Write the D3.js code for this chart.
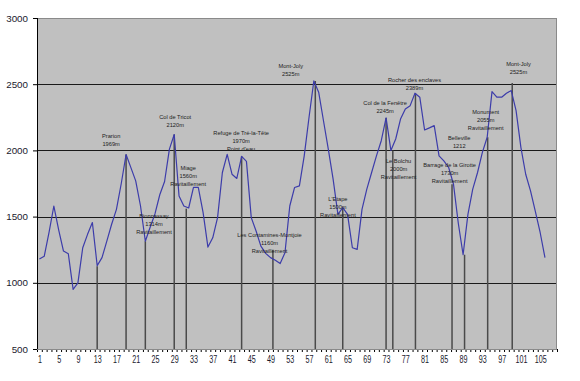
<!DOCTYPE html>
<html>
<head>
<meta charset="utf-8">
<script src="https://cdn.jsdelivr.net/npm/d3@7"></script>
<style>
  body { margin: 0; background: #fff; }
  text { font-family: "Liberation Sans", Arial, sans-serif; }
</style>
</head>
<body>
<svg id="svg"></svg>
<script>
// altitude profile, one value per point (m)
const elevation = [
  1180, 1200, 1380, 1580, 1400, 1240, 1220, 950, 1000, 1265,
  1366, 1455, 1130, 1190, 1315, 1442, 1555, 1750, 1969, 1870,
  1770, 1580, 1314, 1420, 1520, 1665, 1765, 2010, 2120, 1656,
  1580, 1565, 1720, 1720, 1530, 1270, 1340, 1492, 1833, 1970,
  1820, 1788, 1955, 1917, 1492, 1391, 1277, 1222, 1190, 1170,
  1145, 1227, 1580, 1720, 1732, 1959, 2250, 2525, 2440, 2224,
  2010, 1783, 1517, 1568, 1517, 1265, 1252, 1555, 1707, 1833,
  1959, 2073, 2245, 2000, 2086, 2237, 2313, 2338, 2432, 2402,
  2154, 2170, 2187, 1959, 1921, 1871, 1745, 1450, 1212, 1517,
  1707, 1833, 1985, 2099, 2444, 2402, 2402, 2432, 2452, 2300,
  2023, 1820, 1694, 1540, 1380, 1190
];
const categoryCount = 108;
const xTickLabels = [1, 5, 9, 13, 17, 21, 25, 29, 33, 37, 41, 45, 49, 53, 57, 61, 65, 69, 73, 77, 81, 85, 89, 93, 97, 101, 105];
const yTicks = [500, 1000, 1500, 2000, 2500, 3000];

// vertical drop lines: category position and top altitude
const dropCats = [13, 19, 23, 29, 31.5, 43, 49.5, 58.3, 64, 73, 74.4, 79.1, 86.7, 89.3, 94.1, 99.2];
const dropTops = [1125, 1969, 1314, 2120, 1560, 1955, 1250, 2525, 1568, 2245, 2000, 2432, 1745, 1212, 2099, 2510];

// place labels
const labelTexts = [
  ["Prarion", "1969m"],
  ["Bionnassay", "1314m", "Ravitaillement"],
  ["Col de Tricot", "2120m"],
  ["Miage", "1560m", "Ravitaillement"],
  ["Refuge  de Tré-la-Tête", "1970m", "Point d'eau"],
  ["Les Contamines-Montjoie", "1160m", "Ravitaillement"],
  ["Mont-Joly", "2525m"],
  ["L'Etape", "1500m", "Ravitaillement"],
  ["Col de la Fenêtre", "2245m"],
  ["Le Bolchu", "2000m", "Ravitaillement"],
  ["Rocher des enclaves", "2389m"],
  ["Barrage de la Girotte", "1730m", "Ravitaillement"],
  ["Belleville", "1212"],
  ["Monument", "2055m", "Ravitaillement"],
  ["Mont-Joly", "2525m"]
];
const labelCats = [15.9, 24.8, 29.2, 31.9, 42.9, 48.8, 53.2, 63.0, 72.8, 75.6, 78.9, 86.2, 88.2, 93.7, 100.5];
const labelVals = [2108, 1506, 2252, 1866, 2129, 1361, 2641, 1636, 2356, 1921, 2535, 1889, 2091, 2288, 2649];

const layout = {width: 580, height: 381, left: 37, right: 557, top: 18, bottom: 349};

const svg = d3.select("#svg")
  .attr("width", layout.width)
  .attr("height", layout.height);

const x = d3.scaleLinear()
  .domain([0.5, categoryCount + 0.5])
  .range([layout.left, layout.right]);

const y = d3.scaleLinear()
  .domain([500, 3000])
  .range([layout.bottom, layout.top]);

// plot area
svg.append("rect")
  .attr("x", layout.left)
  .attr("y", layout.top)
  .attr("width", layout.right - layout.left)
  .attr("height", layout.bottom - layout.top)
  .attr("fill", "#c0c0c0");

// gridlines
svg.append("g")
  .selectAll("line")
  .data(yTicks.filter(d => d > 500 && d < 3000))
  .join("line")
  .attr("x1", layout.left)
  .attr("x2", layout.right)
  .attr("y1", d => Math.round(y(d)) + 0.5)
  .attr("y2", d => Math.round(y(d)) + 0.5)
  .attr("stroke", "#1a1a1a")
  .attr("stroke-width", 1);

// drop lines
svg.append("g")
  .selectAll("line")
  .data(dropCats)
  .join("line")
  .attr("x1", d => x(d))
  .attr("x2", d => x(d))
  .attr("y1", (d, i) => y(dropTops[i]))
  .attr("y2", y(500))
  .attr("stroke", "#4a4a4a")
  .attr("stroke-width", 1.5);

// profile line
const line = d3.line()
  .x((d, i) => x(i + 1))
  .y(d => y(d));

svg.append("path")
  .datum(elevation)
  .attr("d", line)
  .attr("fill", "none")
  .attr("stroke", "#3c3caa")
  .attr("stroke-width", 1.2)
  .attr("stroke-linejoin", "round");

// labels
const labels = svg.append("g")
  .selectAll("text")
  .data(labelTexts)
  .join("text")
  .attr("x", (d, i) => x(labelCats[i]))
  .attr("y", (d, i) => y(labelVals[i]))
  .attr("text-anchor", "middle")
  .attr("font-size", "5.7px")
  .attr("fill", "#222");

labels.selectAll("tspan")
  .data(d => d)
  .join("tspan")
  .attr("x", function() { return this.parentNode.getAttribute("x"); })
  .attr("dy", (d, i) => i === 0 ? "0.35em" : "8")
  .text(d => d);

// y axis
const yAxis = svg.append("g")
  .attr("transform", `translate(${layout.left},0)`)
  .call(d3.axisLeft(y).tickValues(yTicks).tickFormat(d3.format("d")).tickSizeInner(4).tickSizeOuter(0).tickPadding(5));
yAxis.select(".domain").attr("stroke", "#000");
yAxis.selectAll("text").attr("font-size", "9.8px").attr("fill", "#1a1a2e");

// x axis: tick marks at category boundaries
const xMarks = svg.append("g")
  .attr("transform", `translate(0,${layout.bottom})`)
  .call(d3.axisBottom(x).tickValues(d3.range(0.5, categoryCount + 1, 1)).tickSizeInner(3).tickSizeOuter(0).tickFormat(""));
xMarks.select(".domain").attr("stroke", "#000");

// x axis labels at category centres
const xLabels = svg.append("g")
  .attr("transform", `translate(0,${layout.bottom})`)
  .call(d3.axisBottom(x).tickValues(xTickLabels).tickSize(0).tickPadding(7));
xLabels.select(".domain").remove();
xLabels.selectAll("text")
  .attr("font-size", "10px")
  .attr("fill", "#1a1a2e")
  .attr("transform", "scale(0.72,1)");

// border
svg.append("rect")
  .attr("x", layout.left + 0.5)
  .attr("y", layout.top + 0.5)
  .attr("width", layout.right - layout.left - 1)
  .attr("height", layout.bottom - layout.top)
  .attr("fill", "none")
  .attr("stroke", "#8a8a8a");

svg.append("line")
  .attr("x1", layout.left + 0.5)
  .attr("x2", layout.left + 0.5)
  .attr("y1", layout.top)
  .attr("y2", layout.bottom)
  .attr("stroke", "#000");
</script>
</body>
</html>
